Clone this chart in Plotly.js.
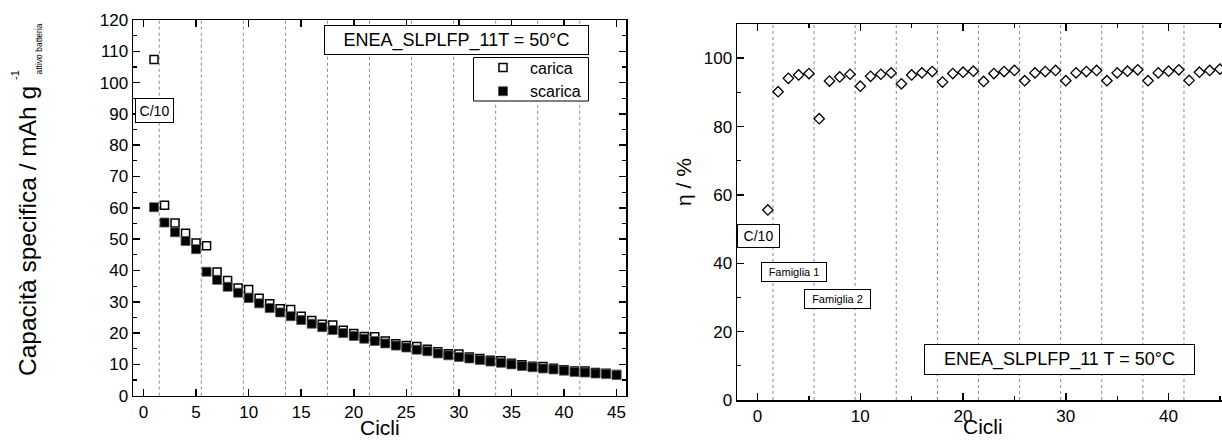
<!DOCTYPE html>
<html>
<head>
<meta charset="utf-8">
<script src="https://cdn.plot.ly/plotly-3.0.1.min.js"></script>
<style>html,body{margin:0;padding:0;background:#fff;}#chart{width:1222px;height:441px;}</style>
</head>
<body>
<div id="chart"></div>
<script>
// ---- data ----
const cycles = [1,2,3,4,5,6,7,8,9,10,11,12,13,14,15,16,17,18,19,20,21,22,23,24,25,26,27,28,29,30,31,32,33,34,35,36,37,38,39,40,41,42,43,44,45];
const carica = [107.4,60.8,55.2,51.9,48.8,47.9,39.5,36.8,34.4,33.9,31.1,29.4,27.8,27.5,25.4,24.0,22.8,22.6,20.9,19.9,18.9,18.8,17.5,16.6,16.0,15.7,14.8,14.0,13.4,13.3,12.4,11.9,11.3,11.2,10.4,9.9,9.4,9.3,8.8,8.3,7.9,7.9,7.4,7.2,6.8];
const scarica = [60.2,55.3,52.2,49.4,46.8,39.6,37.0,34.8,32.9,31.2,29.5,28.0,26.6,25.4,24.2,23.0,21.9,21.0,20.0,19.1,18.2,17.5,16.7,16.0,15.4,14.7,14.2,13.5,12.9,12.4,11.9,11.4,10.9,10.5,10.0,9.5,9.1,8.7,8.4,8.0,7.6,7.4,7.1,6.9,6.6];
const efficienza = [55.6,90.2,94.1,95.1,95.5,82.3,93.3,94.5,95.3,91.8,94.7,95.3,95.7,92.5,95.1,95.7,96.1,93.0,95.5,95.9,96.2,93.2,95.5,96.1,96.4,93.4,95.7,96.1,96.4,93.4,95.7,96.1,96.4,93.4,95.7,96.2,96.6,93.4,95.7,96.2,96.6,93.5,95.9,96.4,96.8];
const familyBoundaries = [1.5,5.5,9.5,13.5,17.5,21.5,25.5,29.5,33.5,37.5,41.5];
const seriesNames = ['carica','scarica'];
const leftTitle = 'ENEA_SLPLFP_11T = 50°C';
const rightTitle = 'ENEA_SLPLFP_11 T = 50°C';

// ---- helpers ----
const W = 1222, H = 441;
const px = v => v / W;
const py = v => 1 - v / H;
const FONT = 'Liberation Sans, Arial, Helvetica, sans-serif';

const traces = [
  {x: cycles, y: carica, name: seriesNames[0], type: 'scatter', mode: 'markers', xaxis: 'x', yaxis: 'y',
   marker: {symbol: 'square-open', size: 8, color: '#000', line: {width: 1.5, color: '#000'}}},
  {x: cycles, y: scarica, name: seriesNames[1], type: 'scatter', mode: 'markers', xaxis: 'x', yaxis: 'y',
   marker: {symbol: 'square', size: 9, color: '#000', line: {width: 0.8, color: '#555'}}},
  {x: cycles, y: efficienza, name: 'η', type: 'scatter', mode: 'markers', xaxis: 'x2', yaxis: 'y2', showlegend: false,
   marker: {symbol: 'diamond-open', size: 8, color: '#000', line: {width: 1.3, color: '#000'}}}
];

const shapes = [];
familyBoundaries.forEach(b => {
  shapes.push({type: 'line', xref: 'x', yref: 'y domain', x0: b, x1: b, y0: 0, y1: 1, layer: 'below',
               line: {color: '#8a8a8a', width: 1, dash: 'dot'}});
  shapes.push({type: 'line', xref: 'x2', yref: 'y2 domain', x0: b, x1: b, y0: 0, y1: 1, layer: 'below',
               line: {color: '#8a8a8a', width: 1, dash: 'dot'}});
});
// legend frame
shapes.push({type: 'rect', xref: 'paper', yref: 'paper', x0: px(473.5), x1: px(588.5), y0: py(101), y1: py(57.5),
             layer: 'above', fillcolor: '#fff', line: {color: '#000', width: 1}});

function box(text, cx, cy, w, h, size) {
  return {text: text, xref: 'paper', yref: 'paper', x: px(cx), y: py(cy), xanchor: 'center', yanchor: 'middle',
          showarrow: false, width: w, height: h, borderpad: 0, borderwidth: 1, bordercolor: '#000',
          bgcolor: '#fff', font: {family: FONT, size: size, color: '#000'}};
}
function label(text, cx, cy, size, angle) {
  return {text: text, xref: 'paper', yref: 'paper', x: px(cx), y: py(cy), xanchor: 'center', yanchor: 'middle',
          showarrow: false, textangle: angle || 0, font: {family: FONT, size: size, color: '#000'}};
}

const annotations = [
  box(leftTitle, 456, 40.5, 263, 28, 18),
  box('C/10', 154, 110, 37, 23, 14),
  box('C/10', 758, 235.5, 41, 22, 14),
  box('Famiglia 1', 793.5, 271.5, 64, 18, 11),
  box('Famiglia 2', 837, 298.7, 65, 18, 11),
  box(rightTitle, 1059, 359, 269, 29, 18),
  label('Cicli', 380, 427, 21),
  label('Cicli', 983, 426, 21),
  label('Capacità specifica / mAh g', 27, 231, 24.5, -90),
  label('-1', 15, 75, 11, -90),
  label('attivo batteria', 38.5, 49, 8.5, -90),
  label('η / %', 683, 182, 21, -90)
];

const axisCommon = {
  showline: true, linewidth: 1.5, linecolor: '#000', showgrid: false, zeroline: false,
  ticks: 'inside', ticklen: 7, tickwidth: 1.5, tickcolor: '#000',
  tickfont: {family: FONT, size: 17, color: '#000'}
};

const layout = {
  width: W, height: H, margin: {l: 0, r: 0, t: 0, b: 0},
  paper_bgcolor: '#fff', plot_bgcolor: 'rgba(0,0,0,0)',
  font: {family: FONT, color: '#000'},
  showlegend: true,
  legend: {x: px(476), y: py(50.5), xanchor: 'left', yanchor: 'top', bgcolor: 'rgba(0,0,0,0)',
           borderwidth: 0, font: {family: FONT, size: 16, color: '#000'},
           tracegroupgap: 0, itemwidth: 44},
  xaxis: Object.assign({}, axisCommon, {domain: [px(133), px(626)], range: [-1, 45.9], anchor: 'y',
           tick0: 0, dtick: 5, mirror: 'ticks'}),
  yaxis: Object.assign({}, axisCommon, {domain: [py(395.7), py(20)], range: [0, 120], anchor: 'x',
           tick0: 0, dtick: 10, mirror: 'ticks',
           minor: {ticks: 'inside', ticklen: 4, tickwidth: 1.2, tickcolor: '#000', dtick: 5, showgrid: false}}),
  xaxis2: Object.assign({}, axisCommon, {domain: [px(737), 1], range: [-2, 45.2], anchor: 'y2',
           tick0: 0, dtick: 10, mirror: 'ticks',
           minor: {ticks: 'inside', ticklen: 4, tickwidth: 1.2, tickcolor: '#000', dtick: 5, showgrid: false}}),
  yaxis2: Object.assign({}, axisCommon, {domain: [py(400), py(24)], range: [0, 110], anchor: 'x2',
           tick0: 0, dtick: 20, mirror: false,
           minor: {ticks: 'inside', ticklen: 4, tickwidth: 1.2, tickcolor: '#000', dtick: 10, showgrid: false}}),
  shapes: shapes,
  annotations: annotations
};

Plotly.newPlot('chart', traces, layout, {staticPlot: true, displayModeBar: false});
</script>
</body>
</html>
